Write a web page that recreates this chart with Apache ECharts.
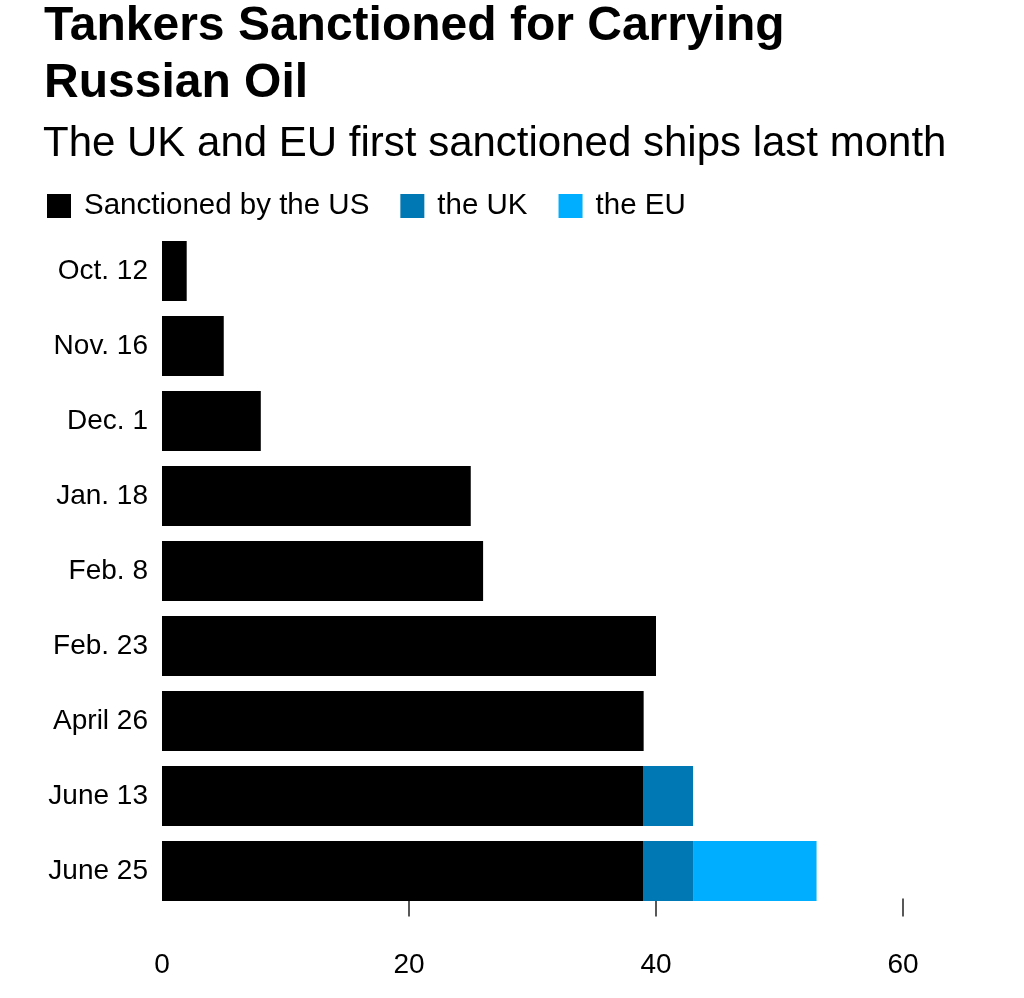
<!DOCTYPE html>
<html>
<head>
<meta charset="utf-8">
<script src="https://cdn.jsdelivr.net/npm/echarts@6/dist/echarts.min.js"></script>
<style>
html,body{margin:0;padding:0;background:#fff;}
#chart{width:1024px;height:998px;}
</style>
</head>
<body>
<div id="chart"></div>
<script>
const categories = ['Oct. 12','Nov. 16','Dec. 1','Jan. 18','Feb. 8','Feb. 23','April 26','June 13','June 25'];
const usValues = [2,5,8,25,26,40,39,39,39];
const ukValues = [0,0,0,0,0,0,0,4,4];
const euValues = [0,0,0,0,0,0,0,0,10];
const xTicks = [0,20,40,60];
const seriesNames = ['Sanctioned by the US','the UK','the EU'];
const colors = ['#000000','#0078b4','#00aeff'];

const FONT = 'Liberation Sans, Arial, Helvetica, sans-serif';
const chart = echarts.init(document.getElementById('chart'));
const mk = (name, data, color) => ({
  name, type:'bar', stack:'total', data, barCategoryGap:'20%',
  itemStyle:{color}, emphasis:{disabled:true}, silent:true
});
chart.setOption({
  animation:false,
  title:[
    {text:'Tankers Sanctioned for Carrying\nRussian Oil', left:44, top:-2, padding:0,
     textStyle:{fontFamily:FONT, fontWeight:'bold', fontSize:48, lineHeight:57, color:'#000'}},
    {text:'The UK and EU first sanctioned ships last month', left:43, top:123, padding:0,
     textStyle:{fontFamily:FONT, fontWeight:'normal', fontSize:42, color:'#000'}}
  ],
  legend:{
    left:42, top:186, itemWidth:24, itemHeight:24, itemGap:31,
    icon:'rect',
    data:seriesNames,
    textStyle:{fontFamily:FONT, fontSize:29.5, color:'#000', padding:[0,0,0,8]},
    selectedMode:false
  },
  grid:{left:162, right:121, top:233.5, bottom:89.5, containLabel:false},
  xAxis:{
    type:'value', min:0, max:60, interval:20, offset:-10,
    axisLine:{show:false},
    axisTick:{show:true, length:18, customValues:xTicks.slice(1), lineStyle:{color:'#222', width:1.5}},
    axisLabel:{fontFamily:FONT, fontSize:28, color:'#000', margin:53, customValues:xTicks},
    splitLine:{show:false}
  },
  yAxis:{
    type:'category', data:categories, inverse:true,
    axisLine:{show:false}, axisTick:{show:false},
    axisLabel:{fontFamily:FONT, fontSize:28, color:'#000', margin:14}
  },
  series:[
    mk(seriesNames[0], usValues, colors[0]),
    mk(seriesNames[1], ukValues, colors[1]),
    mk(seriesNames[2], euValues, colors[2])
  ]
});
</script>
</body>
</html>
